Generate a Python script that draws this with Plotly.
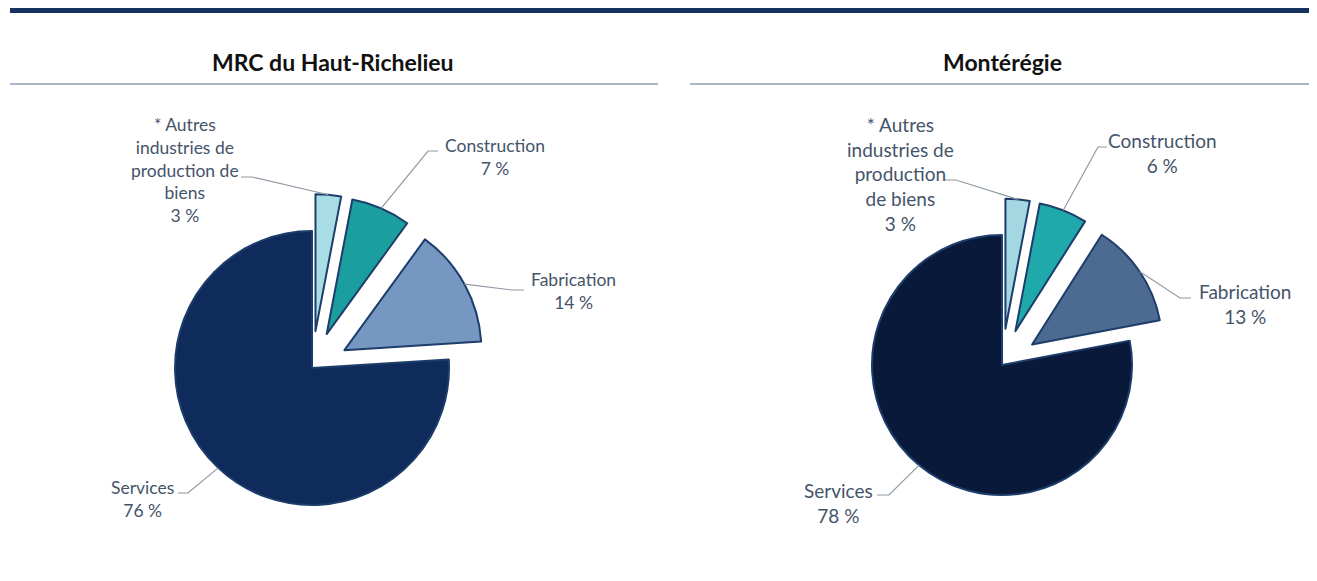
import math
import plotly.graph_objects as go

W, H = 1317, 581          # browser window
OFF = 8                   # default page body margin
FW, FH = W - 2 * OFF, H - 2 * OFF   # figure size so it fits without scrolling

# ---------------- data ----------------
categories = ["* Autres industries de production de biens", "Construction", "Fabrication", "Services"]
haut_richelieu_pct = [3, 7, 14, 76]
monteregie_pct = [3, 6, 13, 78]

# label names (line breaks as in the original)
names_left = ["* Autres<br>industries de<br>production de<br>biens", "Construction", "Fabrication", "Services"]
names_right = ["* Autres<br>industries de<br>production<br>de biens", "Construction", "Fabrication", "Services"]

titles = ["MRC du Haut-Richelieu", "Montérégie"]

# ---------------- styles / layout (screen pixels) ----------------
colors_left = ["#a9dde6", "#1b9e9e", "#7597c2", "#0e2b5b"]
colors_right = ["#a3d8e2", "#1fa9aa", "#4d6b92", "#08193a"]
pull_left = [0.27, 0.27, 0.27, 0]
pull_right = [0.28, 0.28, 0.28, 0]

# pie centre (px) and radius (px)
geo_left = dict(cx=312, cy=368, r=137)
geo_right = dict(cx=1002, cy=365, r=130)

# label centres (px) and leader (elbow, end) points (px)
lab_left = [(185, 170), (495, 157), (573, 291), (142, 499)]
lead_left = [((252, 177), (241, 177)), ((428, 151), (438, 151)),
             ((512, 290), (524, 290)), ((188, 493), (178, 493))]
lab_right = [(900, 174), (1162, 153), (1245, 304), (838, 503)]
lead_right = [((956, 180), (944, 180)), ((1098, 147), (1107, 147)),
              ((1180, 298), (1191, 298)), ((889, 495), (877, 495))]

label_color = "#44546a"
leader_color = "#8f99a3"
font_family = "Lato"


def px2paper(x, y):
    return (x - OFF) / FW, 1 - (y - OFF) / FH


def domain_for(geo, pulls):
    avail = geo["r"] * (2 + 2 * max(pulls))
    x0, y1 = px2paper(geo["cx"] - avail / 2, geo["cy"] - avail / 2)
    x1, y0 = px2paper(geo["cx"] + avail / 2, geo["cy"] + avail / 2)
    return dict(x=[x0, x1], y=[y0, y1])


def slice_points(values, geo, pulls):
    total = float(sum(values))
    pts = []
    cum = 0.0
    for v, p in zip(values, pulls):
        mid = (cum + v / 2) / total * 2 * math.pi
        cum += v
        dx, dy = math.sin(mid), -math.cos(mid)
        cx = geo["cx"] + p * geo["r"] * dx
        cy = geo["cy"] + p * geo["r"] * dy
        pts.append((cx + geo["r"] * dx, cy + geo["r"] * dy))
    return pts


fig = go.Figure()

for vals, cols, pulls, geo in [
    (haut_richelieu_pct, colors_left, pull_left, geo_left),
    (monteregie_pct, colors_right, pull_right, geo_right),
]:
    fig.add_trace(go.Pie(
        labels=categories,
        values=vals,
        sort=False,
        direction="clockwise",
        rotation=0,
        pull=pulls,
        textinfo="none",
        hoverinfo="label+percent",
        showlegend=False,
        domain=domain_for(geo, pulls),
        marker=dict(colors=cols, line=dict(color="#1d3d6b", width=2)),
    ))

shapes = []
annotations = []

# top band
x0, y0 = px2paper(10, 13)
x1, y1 = px2paper(W, 8)
shapes.append(dict(type="rect", xref="paper", yref="paper", x0=x0, x1=1.0, y0=y0, y1=y1,
                   fillcolor="#17325f", line=dict(width=0), layer="above"))

# titles & rules
for title, (tx, ty), (lx0, lx1) in zip(titles, [(333, 62), (1002, 62)], [(10, 658), (690, W)]):
    ax_, ay_ = px2paper(tx, ty)
    annotations.append(dict(text="<b>%s</b>" % title, x=ax_, y=ay_, xref="paper", yref="paper",
                            showarrow=False, xanchor="center", yanchor="middle",
                            font=dict(family=font_family, size=23, color="#111111")))
    a, b = px2paper(lx0, 84)
    c, _ = px2paper(lx1, 84)
    shapes.append(dict(type="line", xref="paper", yref="paper", x0=a, x1=min(c, 1.0), y0=b, y1=b,
                       line=dict(color="#8d9db5", width=1.5)))

# labels with leader lines
for vals, names, geo, pulls, labs, leads, fsize in [
    (haut_richelieu_pct, names_left, geo_left, pull_left, lab_left, lead_left, 17.5),
    (monteregie_pct, names_right, geo_right, pull_right, lab_right, lead_right, 19),
]:
    pts = slice_points(vals, geo, pulls)
    for v, name, pt, (lx, ly), (elb, end) in zip(vals, names, pts, labs, leads):
        px_, py_ = px2paper(lx, ly)
        annotations.append(dict(text="%s<br>%d %%" % (name, v), x=px_, y=py_,
                                xref="paper", yref="paper", showarrow=False,
                                xanchor="center", yanchor="middle", align="center",
                                font=dict(family=font_family, size=fsize, color=label_color)))
        p0 = px2paper(*pt)
        p1 = px2paper(*elb)
        p2 = px2paper(*end)
        path = "M %f %f L %f %f L %f %f" % (p0[0], p0[1], p1[0], p1[1], p2[0], p2[1])
        shapes.append(dict(type="path", xref="paper", yref="paper", path=path,
                           line=dict(color=leader_color, width=1.2)))

fig.update_layout(
    width=FW, height=FH,
    margin=dict(l=0, r=0, t=0, b=0, pad=0),
    paper_bgcolor="white", plot_bgcolor="white",
    shapes=shapes, annotations=annotations,
    font=dict(family=font_family),
)

fig.write_html("out.html")
